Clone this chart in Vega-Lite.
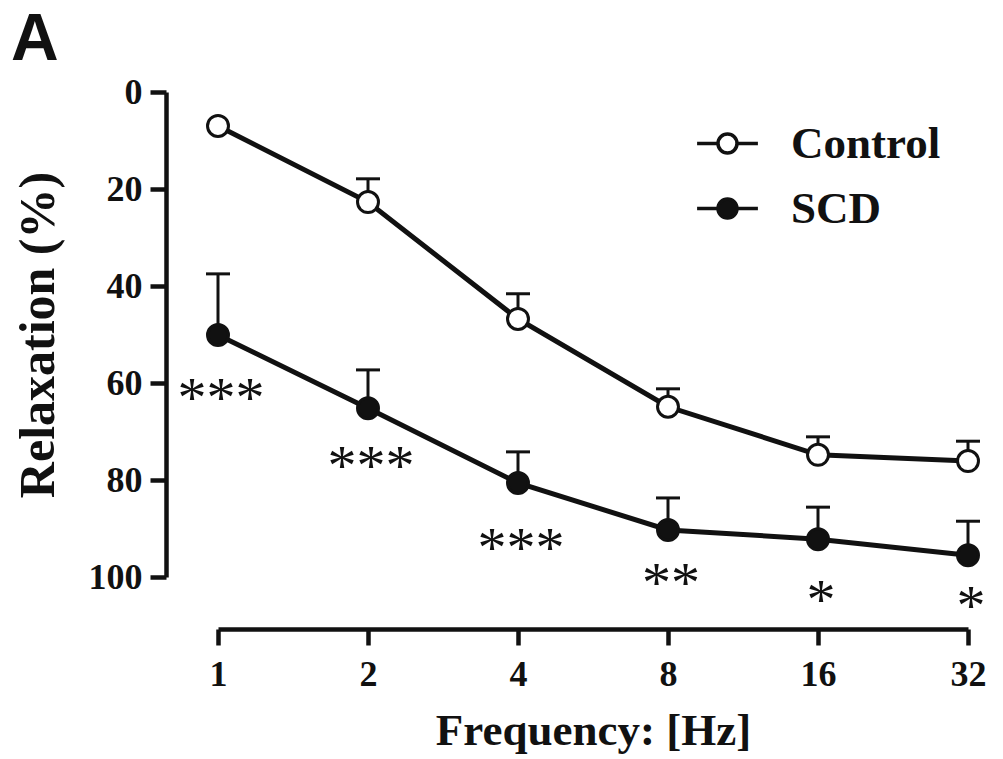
{
  "$schema": "https://vega.github.io/schema/vega-lite/v6.json",
  "width": 750,
  "height": 485,
  "autosize": {"type": "none"},
  "padding": {"left": 218, "top": 92, "right": 35, "bottom": 182},
  "background": "white",
  "title": {
    "text": "A",
    "anchor": "start",
    "frame": "bounds",
    "font": "Liberation Sans",
    "fontSize": 66,
    "fontWeight": "bold",
    "color": "#111",
    "offset": 0,
    "dx": -2
  },
  "config": {
    "view": {"stroke": null},
    "axis": {
      "labelFont": "Liberation Serif",
      "labelFontWeight": "bold",
      "labelFontSize": 36,
      "labelColor": "#111",
      "titleFont": "Liberation Serif",
      "titleFontWeight": "bold",
      "titleColor": "#111",
      "domainColor": "#111",
      "tickColor": "#111",
      "domainWidth": 4.5,
      "tickWidth": 4.5,
      "tickSize": 16,
      "grid": false,
      "labelFlush": false,
      "labelOverlap": false
    }
  },
  "data": {
    "values": [
      {"group": "Control", "freq": 1, "value": 7.0, "err": null, "star": null, "star_y": null},
      {"group": "Control", "freq": 2, "value": 22.7, "err": 17.9, "star": null, "star_y": null},
      {"group": "Control", "freq": 4, "value": 46.8, "err": 41.6, "star": null, "star_y": null},
      {"group": "Control", "freq": 8, "value": 64.9, "err": 61.2, "star": null, "star_y": null},
      {"group": "Control", "freq": 16, "value": 74.8, "err": 71.1, "star": null, "star_y": null},
      {"group": "Control", "freq": 32, "value": 76.1, "err": 72.0, "star": null, "star_y": null},
      {"group": "SCD", "freq": 1, "value": 50.1, "err": 37.5, "star": "***", "star_y": 60.4},
      {"group": "SCD", "freq": 2, "value": 65.2, "err": 57.3, "star": "***", "star_y": 74.4},
      {"group": "SCD", "freq": 4, "value": 80.6, "err": 74.2, "star": "***", "star_y": 91.3},
      {"group": "SCD", "freq": 8, "value": 90.3, "err": 83.7, "star": "**", "star_y": 98.6},
      {"group": "SCD", "freq": 16, "value": 92.2, "err": 85.6, "star": "*", "star_y": 102.1},
      {"group": "SCD", "freq": 32, "value": 95.5, "err": 88.5, "star": "*", "star_y": 103.3}
    ]
  },
  "encoding": {
    "x": {
      "field": "freq",
      "type": "quantitative",
      "scale": {"type": "log", "base": 2, "domain": [1, 32], "nice": false},
      "axis": {
        "values": [1, 2, 4, 8, 16, 32],
        "format": "d",
        "offset": 52,
        "labelPadding": 12,
        "title": "Frequency: [Hz]",
        "titleFontSize": 45,
        "titlePadding": 16
      }
    }
  },
  "layer": [
    {
      "mark": {"type": "line", "color": "#111", "strokeWidth": 5},
      "encoding": {
        "y": {
          "field": "value",
          "type": "quantitative",
          "scale": {"domain": [0, 100], "reverse": true, "nice": false},
          "axis": {
            "values": [0, 20, 40, 60, 80, 100],
            "offset": 52,
            "labelPadding": 8,
            "title": "Relaxation (%)",
            "titleFontSize": 50,
            "titlePadding": 25
          }
        },
        "detail": {"field": "group"}
      }
    },
    {
      "transform": [{"filter": "isValid(datum.err)"}],
      "mark": {"type": "rule", "color": "#111", "strokeWidth": 3},
      "encoding": {
        "y": {"field": "value", "type": "quantitative"},
        "y2": {"field": "err"}
      }
    },
    {
      "transform": [{"filter": "isValid(datum.err)"}],
      "mark": {"type": "tick", "orient": "horizontal", "color": "#111", "size": 24, "thickness": 3, "opacity": 1},
      "encoding": {
        "y": {"field": "err", "type": "quantitative"}
      }
    },
    {
      "mark": {"type": "point", "shape": "circle", "filled": true, "size": 440, "stroke": "#111", "strokeWidth": 3, "opacity": 1},
      "encoding": {
        "y": {"field": "value", "type": "quantitative"},
        "fill": {
          "field": "group",
          "type": "nominal",
          "scale": {"domain": ["Control", "SCD"], "range": ["white", "#111"]},
          "legend": {
            "orient": "none",
            "legendX": 487,
            "legendY": 29,
            "title": null,
            "padding": 0,
            "symbolType": "M-3.2,0H-1M1,0H3.2M-1,0A1,1 0 1,0 1,0A1,1 0 1,0 -1,0Z",
            "symbolSize": 361,
            "symbolStrokeColor": "#111",
            "symbolStrokeWidth": 3.5,
            "symbolOpacity": 1,
            "labelFont": "Liberation Serif",
            "labelFontSize": 45,
            "labelFontWeight": "bold",
            "labelColor": "#111",
            "labelOffset": 41,
            "rowPadding": 19
          }
        }
      }
    },
    {
      "transform": [{"filter": "isValid(datum.star)"}],
      "mark": {"type": "text", "font": "Liberation Serif", "fontSize": 58, "color": "#111", "baseline": "alphabetic", "dy": 32, "dx": 3},
      "encoding": {
        "y": {"field": "star_y", "type": "quantitative"},
        "text": {"field": "star"}
      }
    }
  ]
}
